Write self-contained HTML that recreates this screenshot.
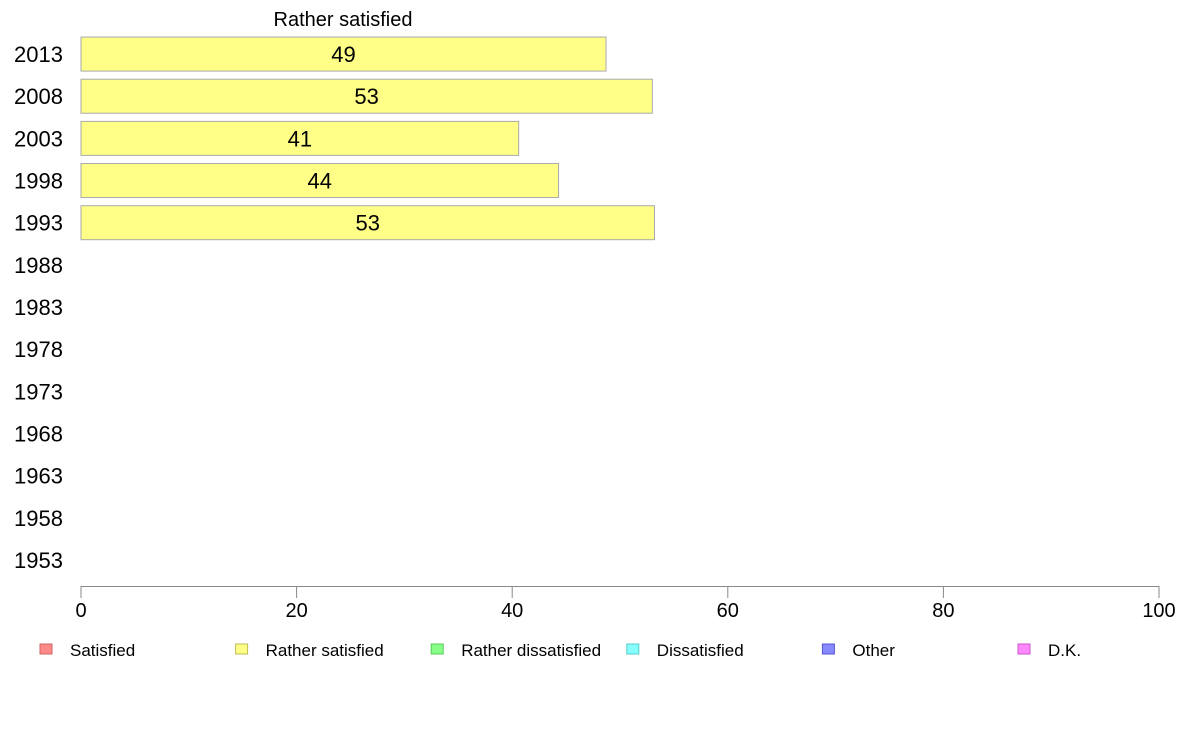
<!DOCTYPE html>
<html><head><meta charset="utf-8"><style>
body{margin:0;background:#fff;}
svg{display:block;font-family:"Liberation Sans",Arial,sans-serif;}
</style></head><body>
<svg id="chart" width="1188" height="736">
<text x="343" y="26" font-size="20" text-anchor="middle">Rather satisfied</text>
<g id="bars"></g><g id="ylabels"></g><g id="xaxis"></g><g id="legend"></g>
</svg>
<script>
const years = ["2013","2008","2003","1998","1993","1988","1983","1978","1973","1968","1963","1958","1953"];
const values = [48.7, 53.0, 40.6, 44.3, 53.2, null, null, null, null, null, null, null, null];
const valueLabels = ["49","53","41","44","53"];
const xTicks = [0,20,40,60,80,100];
const legendLabels = ["Satisfied","Rather satisfied","Rather dissatisfied","Dissatisfied","Other","D.K."];
const legendColors = ["#ff8888","#ffff88","#88ff88","#88ffff","#8888ff","#ff88ff"];
const legendBorders = ["#cc6666","#bbbb55","#55cc55","#55cccc","#5555cc","#cc55cc"];

const NS="http://www.w3.org/2000/svg";
const x0=81,x1=1159;
const xs=v=>x0+(v/100)*(x1-x0);
const yTop=33,yBot=581,step=(yBot-yTop)/years.length;
const yc=i=>yTop+step*(i+0.5);
function mk(t,a,p){const e=document.createElementNS(NS,t);for(const k in a)e.setAttribute(k,a[k]);p.appendChild(e);return e;}
const gb=document.getElementById('bars'),gy=document.getElementById('ylabels'),gx=document.getElementById('xaxis'),gl=document.getElementById('legend');
years.forEach((y,i)=>{
  const t=mk('text',{x:14,y:yc(i)+8,'font-size':22},gy);t.textContent=y;
  
  
  const v=values[i];
  if(v!=null){
    const h=34;
    const r=mk('rect',{x:xs(0),y:yc(i)-h/2,width:xs(v)-xs(0),height:h,fill:'#ffff88',stroke:'#aaaaaa','stroke-width':1},gb);
    
    
    const l=mk('text',{x:(xs(0)+xs(v))/2,y:yc(i)+8,'font-size':22,'text-anchor':'middle'},gb);l.textContent=valueLabels[i];
    
    
  }
});
const ax=mk('line',{x1:x0,x2:x1,y1:586.5,y2:586.5,stroke:'#888'},gx);


xTicks.forEach(t=>{
  const tk=mk('line',{x1:xs(t),x2:xs(t),y1:586,y2:598,stroke:'#888'},gx);
  
  
  const tl=mk('text',{x:xs(t),y:617,'font-size':20,'text-anchor':'middle'},gx);tl.textContent=t;
  
  
});
legendLabels.forEach((n,i)=>{
  const lx=40+i*195.6;
  const g=mk('g',{},gl);
  
  
  mk('rect',{x:lx,y:644,width:12,height:10,fill:legendColors[i],stroke:legendBorders[i]},g);
  const t=mk('text',{x:lx+30,y:656,'font-size':17},g);t.textContent=n;
});
</script>
</body></html>
